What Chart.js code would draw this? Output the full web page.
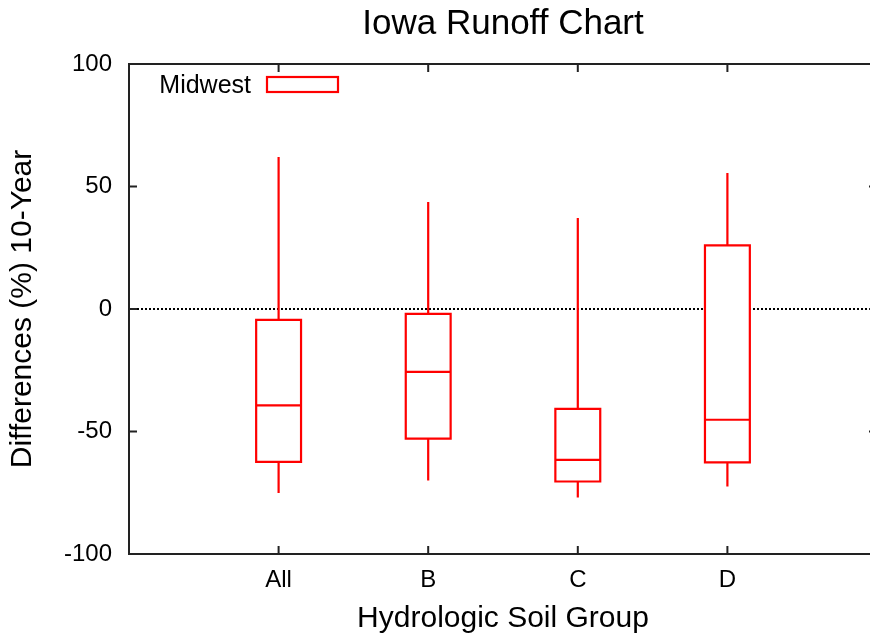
<!DOCTYPE html>
<html><head><meta charset="utf-8">
<script src="https://cdn.jsdelivr.net/npm/chart.js@4.4.1/dist/chart.umd.min.js"></script>
<style>html,body{margin:0;padding:0;background:#fff;overflow:hidden;width:870px;height:637px}canvas{display:block}</style>
</head><body>
<canvas id="c" width="885" height="637"></canvas>
<script>
// ---- data ----
const categories = ['All', 'B', 'C', 'D'];
const positions = [1, 2, 3, 4];
const whiskerMax = [62.0, 43.7, 37.1, 55.5];
const upperQuartile = [-4.4, -2.0, -40.8, 26.0];
const median = [-39.3, -25.7, -61.6, -45.2];
const lowerQuartile = [-62.4, -52.9, -70.4, -62.6];
const whiskerMin = [-75.1, -70.0, -76.9, -72.4];
const yTickValues = [-100, -50, 0, 50, 100];
const seriesName = 'Midwest';
const chartTitle = 'Iowa Runoff Chart';
const xTitle = 'Hydrologic Soil Group';
const yTitle = 'Differences (%) 10-Year';

// ---- styling ----
const FONT = '"Liberation Sans", Arial, Helvetica, sans-serif';
const RED = '#ff0000';
const AXIS = '#222222';
const HALF = 0.15; // half box width in x units

const boxData = [], medianData = [], whiskerData = [];
positions.forEach((p, i) => {
  boxData.push([
    {x: p - HALF, y: lowerQuartile[i]}, {x: p + HALF, y: lowerQuartile[i]},
    {x: p + HALF, y: upperQuartile[i]}, {x: p - HALF, y: upperQuartile[i]},
    {x: p - HALF, y: lowerQuartile[i]}
  ]);
  medianData.push({x: p - HALF, y: median[i]}, {x: p + HALF, y: median[i]}, {x: p, y: null});
  whiskerData.push({x: p, y: whiskerMax[i]}, {x: p, y: upperQuartile[i]}, {x: p, y: null},
                   {x: p, y: lowerQuartile[i]}, {x: p, y: whiskerMin[i]}, {x: p, y: null});
});

const lineBase = {pointRadius: 0, borderColor: RED, borderWidth: 2.2, tension: 0,
  borderJoinStyle: 'miter', borderCapStyle: 'butt', spanGaps: false};

const datasets = [];
datasets.push(Object.assign({}, lineBase, {label: seriesName, data: medianData, order: 0, fill: false}));
boxData.forEach((d, i) => {
  datasets.push(Object.assign({}, lineBase, {label: seriesName + ' ' + categories[i], data: d, order: 1,
    fill: 'shape', backgroundColor: '#ffffff', borderCapStyle: 'square'}));
});
datasets.push(Object.assign({}, lineBase, {label: 'whiskers', data: whiskerData, order: 2, fill: false}));
datasets.push({label: 'zero', data: [{x: 0, y: 0}, {x: positions.length + 1, y: 0}], order: 3,
  borderColor: '#000', borderWidth: 2, borderDash: [2, 2], pointRadius: 0, fill: false});

const framePlugin = {
  id: 'frame',
  afterDatasetsDraw(chart) {
    const {ctx, chartArea: a, scales: {x, y}} = chart;
    ctx.save();
    ctx.strokeStyle = AXIS; ctx.lineWidth = 2;
    ctx.strokeRect(a.left, a.top, a.right - a.left, a.bottom - a.top);
    const tl = 8;
    ctx.beginPath();
    y.ticks.forEach(t => {
      const py = y.getPixelForValue(t.value);
      ctx.moveTo(a.left, py); ctx.lineTo(a.left + tl, py);
      ctx.moveTo(a.right, py); ctx.lineTo(a.right - tl, py);
    });
    x.ticks.forEach(t => {
      const px = x.getPixelForValue(t.value);
      ctx.moveTo(px, a.bottom); ctx.lineTo(px, a.bottom - tl);
      ctx.moveTo(px, a.top); ctx.lineTo(px, a.top + tl);
    });
    ctx.stroke();
    // legend (gnuplot style: text then sample box)
    ctx.font = '25px ' + FONT;
    ctx.fillStyle = '#000'; ctx.textAlign = 'right'; ctx.textBaseline = 'alphabetic';
    ctx.fillText(seriesName, a.left + 122, a.top + 29.3);
    ctx.fillStyle = '#fff'; ctx.strokeStyle = RED; ctx.lineWidth = 2.2;
    ctx.fillRect(a.left + 138, a.top + 13, 71, 15);
    ctx.strokeRect(a.left + 138, a.top + 13, 71, 15);
    ctx.restore();
  }
};

new Chart(document.getElementById('c'), {
  type: 'line',
  data: {datasets},
  options: {
    responsive: false, animation: false, devicePixelRatio: 1,
    layout: {padding: {top: 0, left: 0, right: 8, bottom: 0}},
    plugins: {
      legend: {display: false}, tooltip: {enabled: false},
      title: {display: true, text: chartTitle, fullSize: false, color: '#000',
        font: {family: FONT, size: 35, weight: 'normal'}, padding: {top: 3, bottom: 19}}
    },
    scales: {
      x: {
        type: 'linear', min: 0, max: positions.length + 1,
        afterBuildTicks: s => { s.ticks = positions.map(v => ({value: v})); },
        afterFit: s => { s.height = 83; },
        grid: {display: false, drawTicks: false}, border: {display: false},
        ticks: {autoSkip: false, maxRotation: 0, padding: 12, color: '#000',
          font: {family: FONT, size: 24}, callback: (v, i) => categories[i]},
        title: {display: true, text: xTitle, color: '#000', font: {family: FONT, size: 30},
          padding: {top: 0, bottom: 0}}
      },
      y: {
        type: 'linear', min: -100, max: 100,
        afterBuildTicks: s => { s.ticks = yTickValues.map(v => ({value: v})); },
        afterFit: s => { s.width = 129; },
        grid: {display: false, drawTicks: false}, border: {display: false},
        ticks: {padding: 17, color: '#000', font: {family: FONT, size: 24}},
        title: {display: true, text: yTitle, color: '#000', font: {family: FONT, size: 30},
          padding: {top: 5, bottom: 0}}
      }
    }
  },
  plugins: [framePlugin]
});
</script>
</body></html>
